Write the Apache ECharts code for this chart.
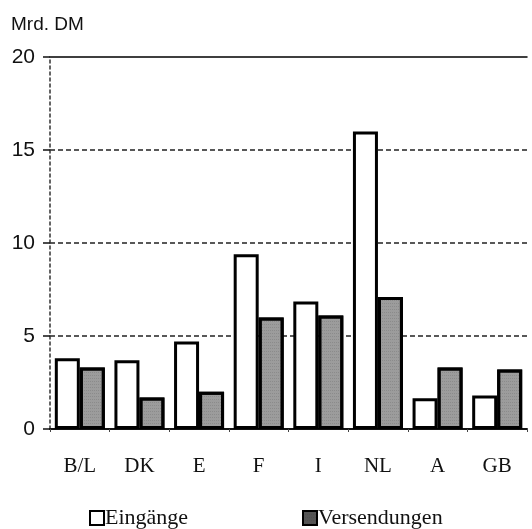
<!DOCTYPE html>
<html>
<head>
<meta charset="utf-8">
<script src="https://cdn.jsdelivr.net/npm/echarts@6/dist/echarts.min.js"></script>
<style>
  html, body { margin: 0; padding: 0; background: #fff; }
  #chart { width: 532px; height: 529px; }
</style>
</head>
<body>
<div id="chart"></div>
<script>
const countries = ['B/L', 'DK', 'E', 'F', 'I', 'NL', 'A', 'GB'];
const eingaenge = [3.8, 3.7, 4.7, 9.4, 6.85, 16.0, 1.65, 1.8];
const versendungen = [3.3, 1.7, 2.0, 6.0, 6.1, 7.1, 3.3, 3.2];
const yTicks = [0, 5, 10, 15, 20];

const chart = echarts.init(document.getElementById('chart'));

const legendText = { fontFamily: 'Liberation Serif', fontSize: 22, color: '#111', padding: [0, 0, 0, -4] };

chart.setOption({
  backgroundColor: '#fff',
  animation: false,
  title: {
    text: 'Mrd. DM',
    left: 6,
    top: 10,
    textStyle: { fontFamily: 'Liberation Sans', fontSize: 19, fontWeight: 'normal', color: '#111' },
  },
  grid: { left: 50, right: 5, top: 57, bottom: 100 },
  legend: [
    {
      data: ['Eingänge'],
      icon: 'rect',
      left: 84,
      top: 502,
      itemWidth: 14,
      itemHeight: 14,
      textStyle: legendText,
    },
    {
      data: [{ name: 'Versendungen', itemStyle: { color: '#555' } }],
      icon: 'rect',
      left: 297,
      top: 502,
      itemWidth: 14,
      itemHeight: 14,
      textStyle: legendText,
    },
  ],
  xAxis: [
    {
      type: 'category',
      data: countries,
      axisLine: { lineStyle: { color: '#111', width: 2 } },
      axisTick: { show: true, length: 3, lineStyle: { color: '#444' } },
      axisLabel: { fontFamily: 'Liberation Serif', fontSize: 21, color: '#111', margin: 27 },
    },
    {
      // solid top line at 20
      type: 'category',
      data: countries,
      position: 'top',
      axisLine: { show: true, onZero: false, lineStyle: { color: '#000', width: 1.5 } },
      axisTick: { show: false },
      axisLabel: { show: false },
      z: 5,
    },
  ],
  yAxis: {
    type: 'value',
    min: yTicks[0],
    max: yTicks[yTicks.length - 1],
    interval: 5,
    axisLine: { show: true, lineStyle: { color: '#333', type: [3, 3], width: 1.5 } },
    axisTick: { show: true, length: 7, lineStyle: { color: '#111', width: 1.5 } },
    axisLabel: { fontFamily: 'Liberation Sans', fontSize: 21, color: '#111', margin: 15 },
    splitLine: {
      show: true,
      lineStyle: {
        color: ['rgba(0,0,0,0)', '#222', '#222', '#222', 'rgba(0,0,0,0)'],
        type: [5, 3],
        width: 1.5,
      },
    },
  },
  series: [
    {
      name: 'Eingänge',
      type: 'bar',
      data: eingaenge,
      barWidth: 25,
      barGap: '0%',
      itemStyle: { color: '#fff', borderColor: '#000', borderWidth: 3 },
    },
    {
      name: 'Versendungen',
      type: 'bar',
      data: versendungen,
      barWidth: 25,
      itemStyle: {
        color: '#9c9c9c',
        borderColor: '#000',
        borderWidth: 3,
        decal: { symbol: 'rect', symbolSize: 0.6, dashArrayX: [1, 1], dashArrayY: [1, 2], color: 'rgba(50,50,50,0.5)' },
      },
    },
  ],
});
</script>
</body>
</html>
